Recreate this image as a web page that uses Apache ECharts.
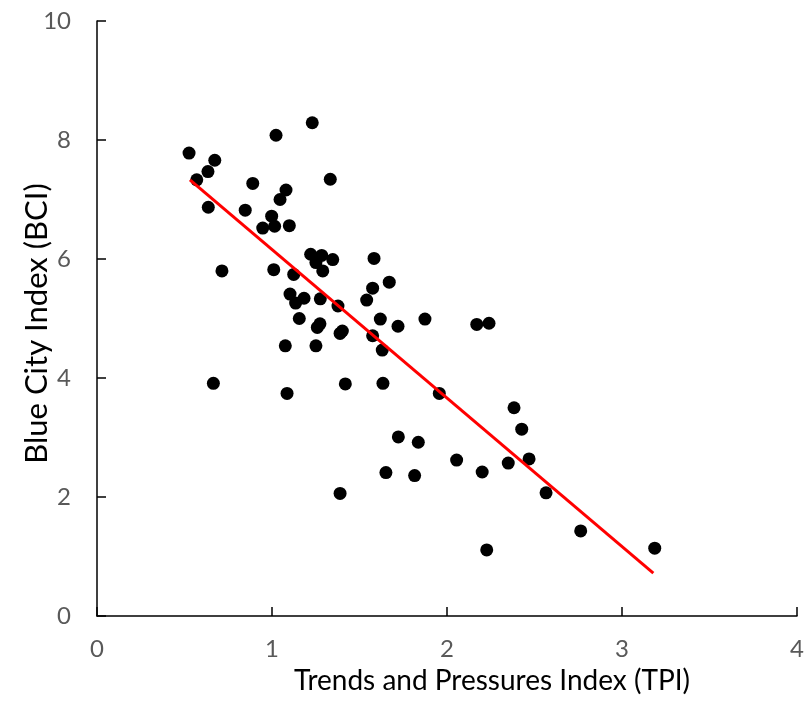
<!DOCTYPE html>
<html>
<head>
<meta charset="utf-8">
<script src="https://cdn.jsdelivr.net/npm/echarts@6/dist/echarts.min.js"></script>
<style>
  html, body { margin: 0; padding: 0; background: #fff; }
  #main { width: 807px; height: 706px; }
</style>
</head>
<body>
<div id="main"></div>
<script>
// TPI (x) values for each city
var tpi = [
    0.526, 0.673, 0.634, 0.570, 1.023, 1.230, 1.333, 0.890, 1.080, 1.046,
    0.636, 0.847, 0.998, 0.947, 1.015, 1.099, 1.221, 1.284, 1.347, 1.251,
    1.290, 1.583, 0.714, 1.010, 1.124, 1.575, 1.670, 1.541, 1.103, 1.135,
    1.183, 1.276, 1.377, 1.156, 1.274, 1.259, 1.402, 1.389, 1.619, 1.720,
    1.874, 1.575, 1.630, 1.076, 1.251, 2.170, 2.240, 0.665, 1.086, 1.419,
    1.634, 1.956, 2.383, 2.427, 1.722, 1.836, 2.055, 2.350, 2.469, 1.651,
    1.815, 2.201, 1.389, 2.566, 2.764, 2.227, 3.187
];
// BCI (y) values, same order
var bci = [
    7.78, 7.66, 7.47, 7.33, 8.08, 8.29, 7.34, 7.27, 7.16, 7.00,
    6.87, 6.82, 6.72, 6.52, 6.55, 6.56, 6.08, 6.06, 5.99, 5.94,
    5.80, 6.01, 5.80, 5.82, 5.74, 5.51, 5.61, 5.31, 5.41, 5.26,
    5.34, 5.33, 5.21, 5.00, 4.91, 4.85, 4.79, 4.75, 4.99, 4.87,
    4.99, 4.71, 4.47, 4.54, 4.54, 4.90, 4.92, 3.91, 3.74, 3.90,
    3.91, 3.74, 3.50, 3.14, 3.01, 2.92, 2.62, 2.57, 2.64, 2.41,
    2.36, 2.42, 2.06, 2.07, 1.43, 1.11, 1.14
];
// linear trend line end points
var trendX = [0.531, 3.179];
var trendY = [7.33, 0.72];

function drawChart() {
    var myChart = echarts.init(document.getElementById('main'));
    var pts = tpi.map(function (x, i) { return [x, bci[i]]; });
    var trend = trendX.map(function (x, i) { return [x, trendY[i]]; });
    var font = 'Lato, "Open Sans", sans-serif';

    var option = {
        animation: false,
        grid: { left: 97, right: 10, top: 21, bottom: 90, outerBoundsMode: 'none' },
        xAxis: {
            type: 'value',
            min: 0, max: 4, interval: 1,
            name: 'Trends and Pressures Index (TPI)',
            nameLocation: 'middle',
            nameGap: 51,
            nameMoveOverlap: false,
            // title sits a bit right of the plot centre
            nameTextStyle: { fontFamily: font, fontSize: 28, color: '#000', padding: [0, 0, 0, 90] },
            axisLine: { lineStyle: { color: '#000', width: 1.5 } },
            axisTick: { inside: true, length: 9, lineStyle: { color: '#000', width: 1.5 } },
            axisLabel: { fontFamily: font, fontSize: 24, color: '#595959', margin: 21 },
            splitLine: { show: false }
        },
        yAxis: {
            type: 'value',
            min: 0, max: 10, interval: 2,
            name: 'Blue City Index (BCI)',
            nameLocation: 'middle',
            nameGap: 45,
            nameMoveOverlap: false,
            nameTextStyle: { fontFamily: font, fontSize: 31, color: '#000', padding: [0, 10, 0, 0] },
            axisLine: { show: true, lineStyle: { color: '#000', width: 1.5 } },
            axisTick: { show: true, inside: true, length: 9, lineStyle: { color: '#000', width: 1.5 } },
            axisLabel: { fontFamily: font, fontSize: 24, color: '#595959', margin: 26 },
            splitLine: { show: false }
        },
        series: [
            {
                type: 'scatter',
                data: pts,
                symbol: 'circle',
                symbolSize: 13,
                itemStyle: { color: '#000', opacity: 1 },
                z: 2
            },
            {
                type: 'line',
                data: trend,
                symbol: 'none',
                lineStyle: { color: '#ff0000', width: 3 },
                z: 3
            }
        ]
    };

    myChart.setOption(option);
}

document.addEventListener('DOMContentLoaded', function () {
    drawChart();
});
</script>
</body>
</html>
